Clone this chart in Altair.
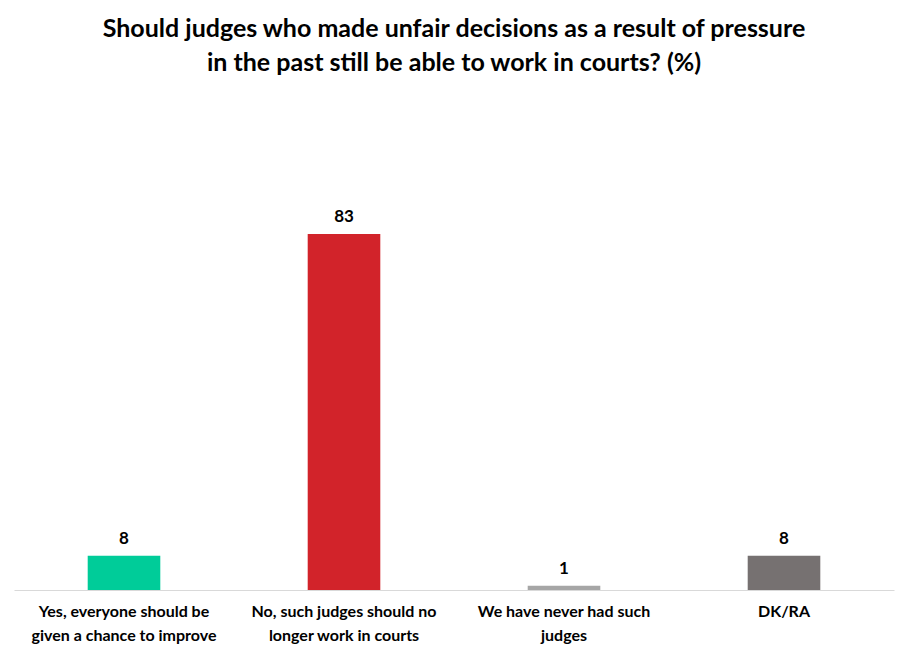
import altair as alt
import pandas as pd

categories = [
    "Yes, everyone should be given a chance to improve",
    "No, such judges should no longer work in courts",
    "We have never had such judges",
    "DK/RA",
]
label_lines = [
    ["Yes, everyone should be", "given a chance to improve"],
    ["No, such judges should no", "longer work in courts"],
    ["We have never had such", "judges"],
    ["DK/RA"],
]
values = [8, 83, 1, 8]
colors = ["#00CC99", "#D2232A", "#A6A6A6", "#767171"]

df = pd.DataFrame({"cat": categories, "value": values, "color": colors})

label_expr = (
    "{"
    + ",".join(
        f"'{c}': {label_lines[i]!r}" for i, c in enumerate(categories)
    )
    + "}[datum.value]"
)

FONT = "Lato"

x = alt.X(
    "cat:N",
    sort=categories,
    scale=alt.Scale(paddingInner=0.67, paddingOuter=0.335),
    axis=alt.Axis(
        title=None,
        labelExpr=label_expr,
        labelAngle=0,
        labelFont=FONT,
        labelFontSize=16,
        labelFontWeight="bold",
        labelColor="#000000",
        labelPadding=13,
        labelLineHeight=24,
        labelLimit=300,
        ticks=False,
        domainColor="#D9D9D9",
        domainWidth=1,
    ),
)
y = alt.Y(
    "value:Q",
    scale=alt.Scale(domain=[0, 90]),
    axis=None,
)

bars = alt.Chart(df).mark_bar().encode(
    x=x,
    y=y,
    color=alt.Color("color:N", scale=None),
)
texts = alt.Chart(df).mark_text(
    dy=-17, font=FONT, fontSize=17, fontWeight="bold", color="#000000"
).encode(x=x, y=y, text=alt.Text("value:Q"))

chart = (
    alt.layer(bars, texts)
    .properties(
        width=880,
        height=386,
        background="#FFFFFF",
        title=alt.TitleParams(
            text=[
                "Should judges who made unfair decisions as a result of pressure",
                "in the past still be able to work in courts? (%)",
            ],
            font=FONT,
            fontSize=25,
            fontWeight="bold",
            color="#000000",
            lineHeight=34,
            anchor="middle",
            offset=128,
        ),
        autosize=alt.AutoSizeParams(type="none"),
        padding={"left": 6, "top": 196, "right": 6, "bottom": 60},
    )
    .configure_view(strokeWidth=0, stroke="transparent")
)

chart.save("out.html", embed_options={"renderer": "svg", "actions": False})
